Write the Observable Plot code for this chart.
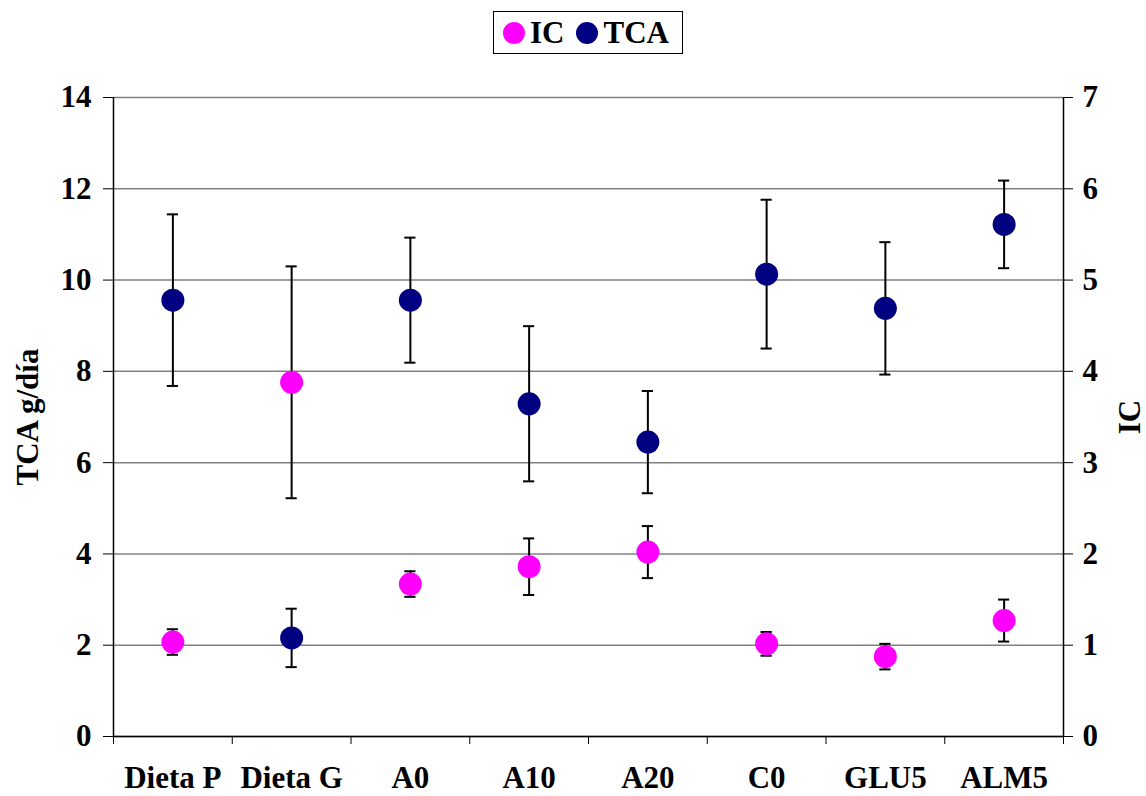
<!DOCTYPE html>
<html>
<head>
<meta charset="utf-8">
<script src="https://cdn.jsdelivr.net/npm/d3@7"></script>
<script src="https://cdn.jsdelivr.net/npm/@observablehq/plot@0.6"></script>
<style>
  html, body { margin: 0; padding: 0; background: #fff; }
  #wrap { position: relative; width: 1146px; height: 796px; font-family: "Liberation Serif", "Times New Roman", serif; font-weight: bold; }
  #legend { position: absolute; left: 493px; top: 11px; width: 188px; height: 41px; border: 1px solid #000; display: flex; align-items: center; box-sizing: content-box; font-size: 31px; }
  .sw { display: inline-block; width: 22px; height: 22px; border-radius: 50%; margin-left: 9px; margin-right: 5px; }
  #chart { position: absolute; left: 0; top: 0; }
</style>
</head>
<body>
<div id="wrap">
  <div id="chart"></div>
  <div id="legend"><span class="sw" style="background:#FF00FF"></span><span>IC</span><span class="sw" style="background:#000080;margin-left:12px"></span><span>TCA</span></div>
</div>
<script>
const categories = ["Dieta P", "Dieta G", "A0", "A10", "A20", "C0", "GLU5", "ALM5"];
const tcaValues = [9.56, 2.16, 9.56, 7.29, 6.45, 10.13, 9.38, 11.22];
const tcaErrors = [1.88, 0.64, 1.37, 1.70, 1.12, 1.63, 1.45, 0.96];
const icValues = [1.035, 3.88, 1.67, 1.86, 2.02, 1.015, 0.875, 1.27];
const icErrors = [0.14, 1.27, 0.14, 0.31, 0.285, 0.13, 0.14, 0.23];
const leftTicks = [0, 2, 4, 6, 8, 10, 12, 14];
const rightTicks = [0, 1, 2, 3, 4, 5, 6, 7];

const ratio = 14 / 7; // left units per right unit
const capHalf = 0.047;

const tca = categories.map((c, i) => ({pos: i + 0.5, v: tcaValues[i], lo: tcaValues[i] - tcaErrors[i], hi: tcaValues[i] + tcaErrors[i]}));
const ic = categories.map((c, i) => ({pos: i + 0.5, v: icValues[i] * ratio, lo: (icValues[i] - icErrors[i]) * ratio, hi: (icValues[i] + icErrors[i]) * ratio}));
const both = tca.concat(ic);

const chart = Plot.plot({
  width: 1146,
  height: 796,
  marginTop: 97,
  marginBottom: 60,
  marginLeft: 113,
  marginRight: 83,
  style: {fontFamily: "'Liberation Serif', 'Times New Roman', serif", fontWeight: "bold", fontSize: "31px", color: "#000", background: "#fff"},
  x: {domain: [0, categories.length], axis: null},
  y: {domain: [0, 14], axis: null},
  marks: [
    Plot.gridY(leftTicks, {stroke: "#808080", strokeOpacity: 1, strokeWidth: 1.5}),
    Plot.ruleY([0], {stroke: "#000", strokeWidth: 1.5}),
    Plot.ruleX([0, categories.length], {stroke: "#000", strokeWidth: 1.5}),
    Plot.axisY({anchor: "left", ticks: leftTicks, tickSize: 10, tickPadding: 12, tickFormat: d => d, label: "TCA g/día", labelArrow: "none", labelAnchor: "center", labelOffset: 98, fontSize: 31}),
    Plot.axisY({anchor: "right", ticks: leftTicks, tickSize: 9, tickPadding: 10, tickFormat: d => rightTicks[leftTicks.indexOf(d)], label: "IC", labelArrow: "none", labelAnchor: "center", labelOffset: 76, fontSize: 31}),
    Plot.axisX({ticks: d3.range(categories.length + 1), tickSize: 8, tickFormat: () => "", label: null}),
    Plot.axisX({ticks: categories.map((c, i) => i + 0.5), tickSize: 0, tickPadding: 29, tickFormat: d => categories[Math.floor(d)], label: null, fontSize: 31}),
    Plot.ruleX(both, {x: "pos", y1: "lo", y2: "hi", stroke: "#000", strokeWidth: 2}),
    Plot.ruleY(both, {x1: d => d.pos - capHalf, x2: d => d.pos + capHalf, y: "hi", stroke: "#000", strokeWidth: 2}),
    Plot.ruleY(both, {x1: d => d.pos - capHalf, x2: d => d.pos + capHalf, y: "lo", stroke: "#000", strokeWidth: 2}),
    Plot.dot(ic, {x: "pos", y: "v", r: 11.5, fill: "#FF00FF", stroke: "none"}),
    Plot.dot(tca, {x: "pos", y: "v", r: 11.5, fill: "#000080", stroke: "none"})
  ]
});
document.getElementById("chart").appendChild(chart);
</script>
</body>
</html>
